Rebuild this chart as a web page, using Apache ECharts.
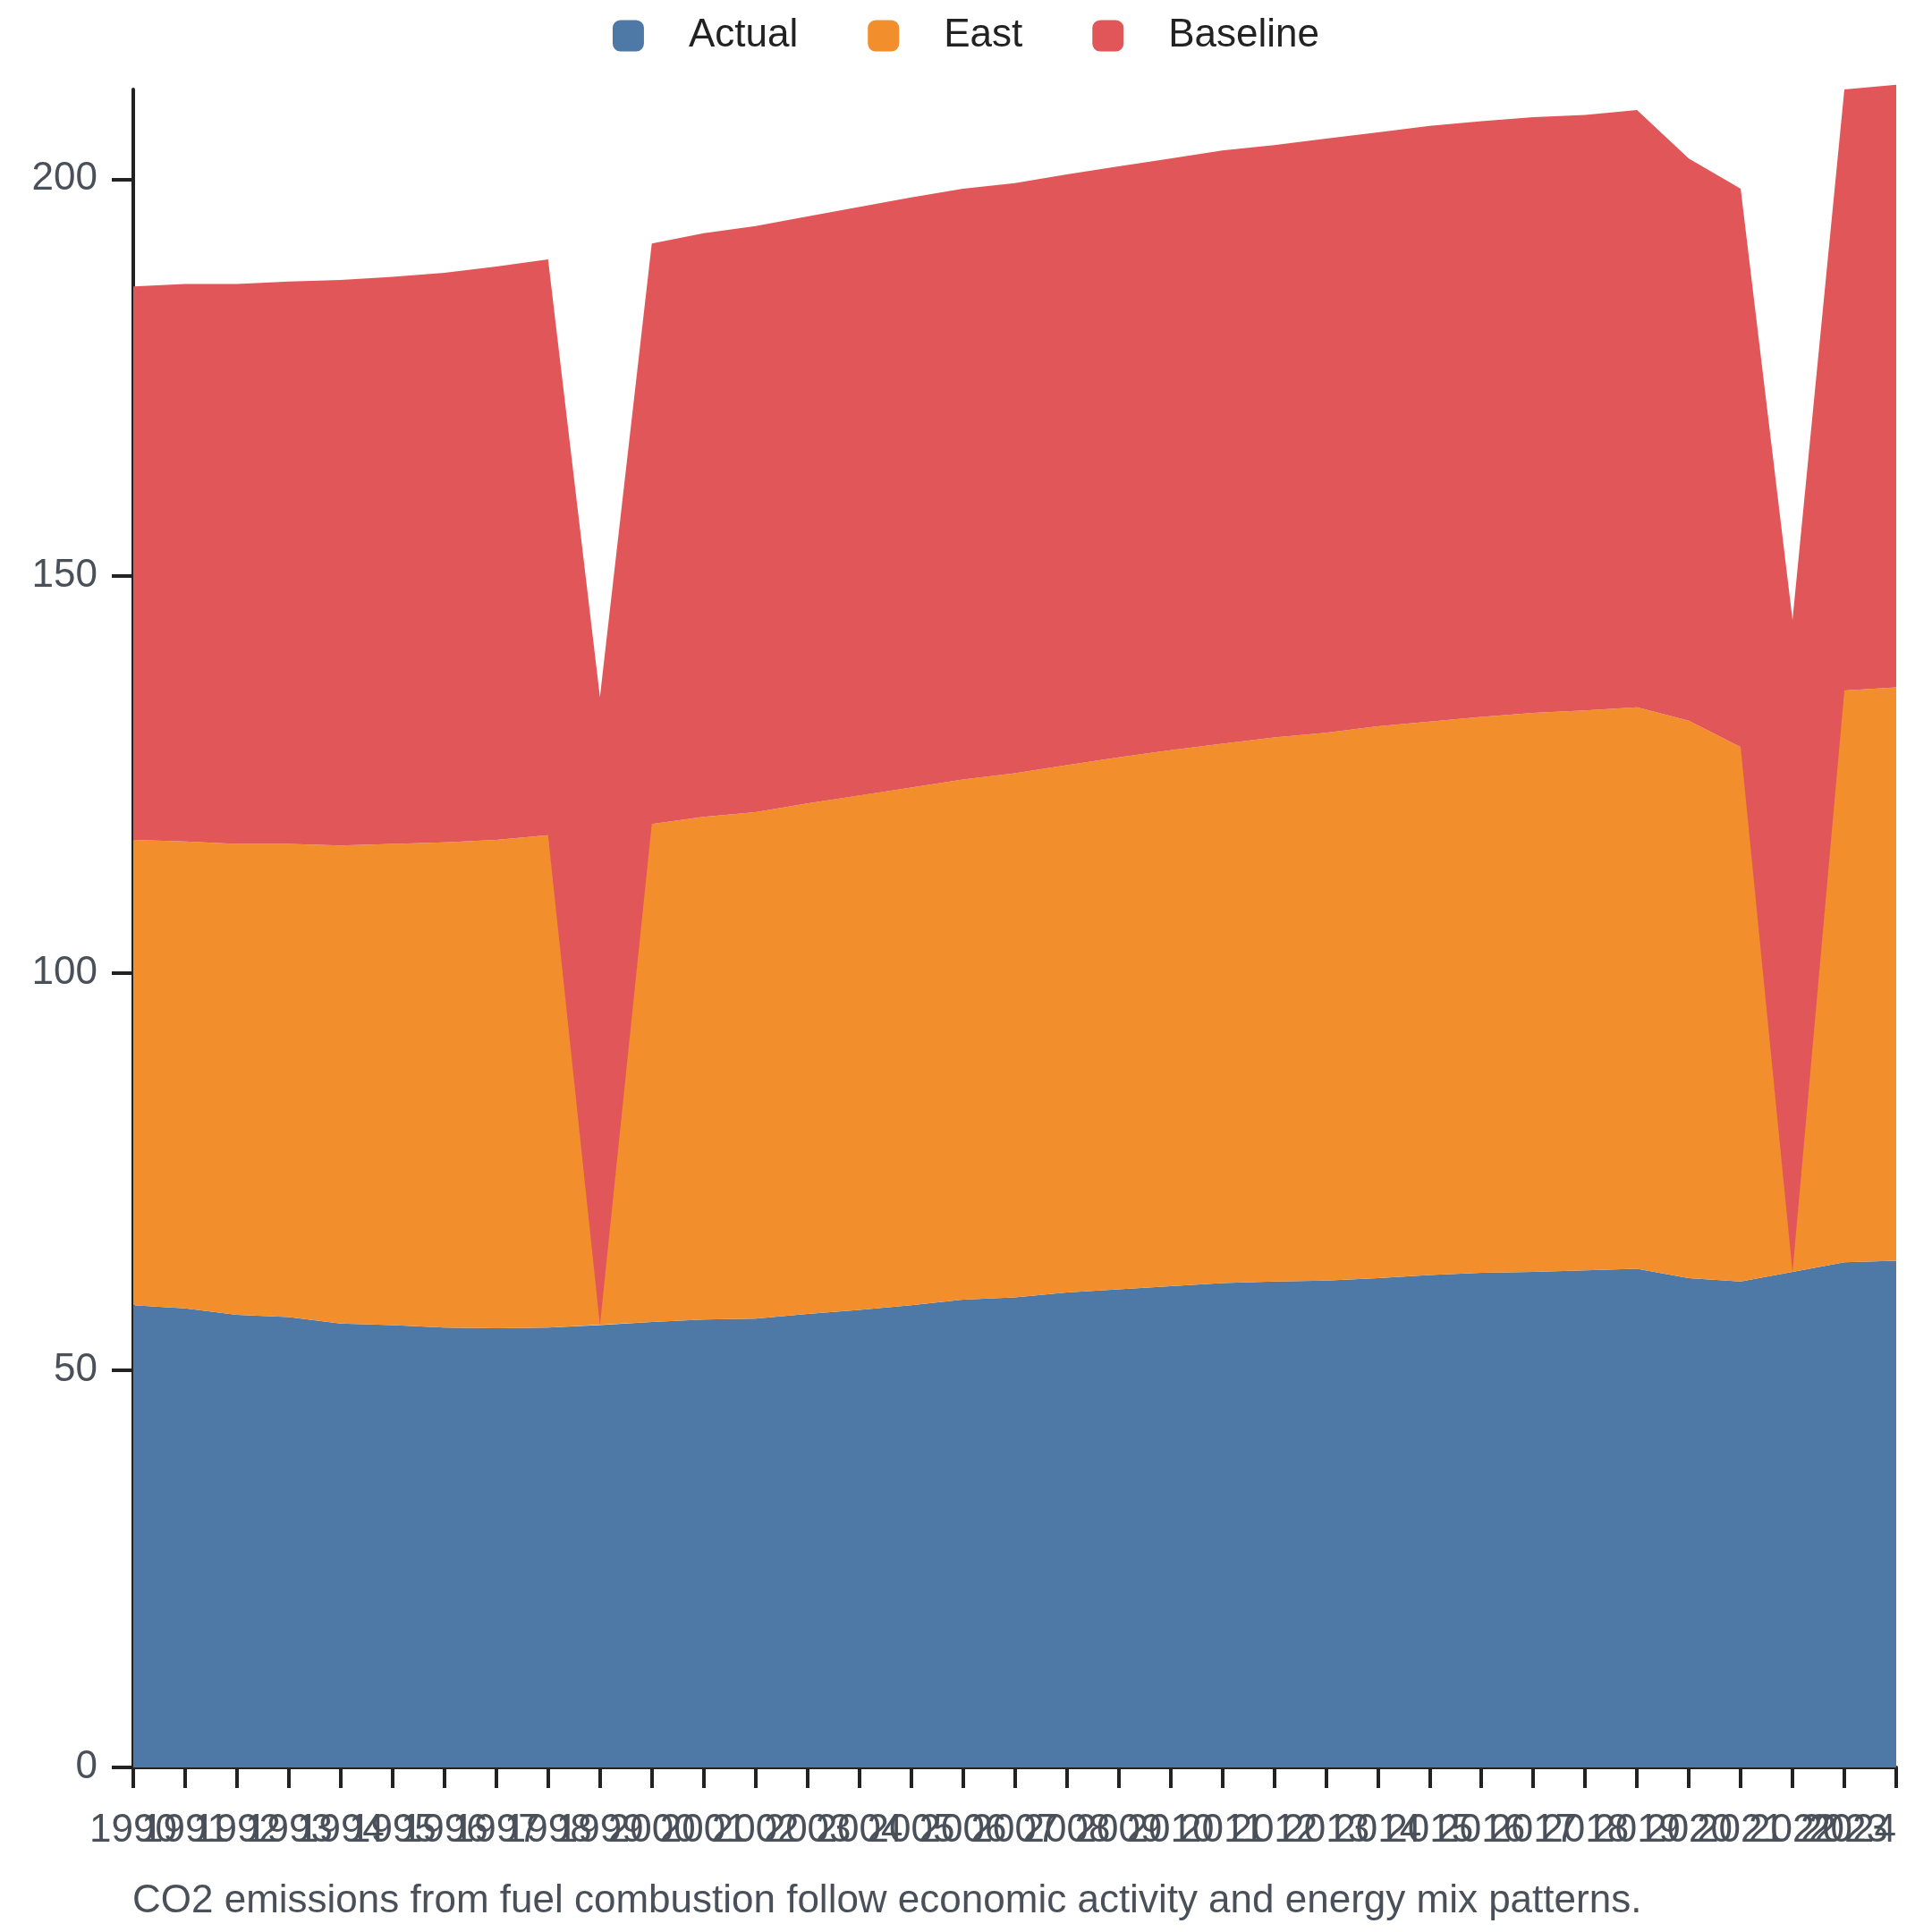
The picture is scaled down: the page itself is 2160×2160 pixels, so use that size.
<!DOCTYPE html>
<html>
<head>
<meta charset="utf-8">
<script src="https://cdn.jsdelivr.net/npm/echarts@6/dist/echarts.min.js"></script>
<style>
html,body{margin:0;padding:0;background:#fff;}
#chart{width:2160px;height:2160px;}
</style>
</head>
<body>
<div id="chart"></div>
<script>
var years = ['1990','1991','1992','1993','1994','1995','1996','1997','1998','1999','2000','2001','2002','2003','2004','2005','2006','2007','2008','2009','2010','2011','2012','2013','2014','2015','2016','2017','2018','2019','2020','2021','2022','2023','2024'];
var actual = [58.2,57.8,57.0,56.7,55.9,55.7,55.4,55.3,55.4,55.7,56.1,56.4,56.5,57.1,57.6,58.2,58.9,59.2,59.8,60.2,60.6,61.0,61.2,61.3,61.6,62.0,62.3,62.4,62.6,62.8,61.6,61.2,62.4,63.6,63.8];
var east = [58.6,58.8,59.3,59.6,60.2,60.6,61.1,61.5,62.0,null,62.7,63.3,63.8,64.3,64.8,65.2,65.5,66.0,66.4,67.0,67.5,67.9,68.5,69.0,69.5,69.7,70.0,70.4,70.5,70.7,70.2,67.3,null,72.0,72.2];
var baseline = [69.7,70.2,70.5,70.8,71.2,71.4,71.7,72.2,72.5,79.1,73.1,73.5,73.8,73.9,null,74.3,74.4,74.3,74.4,74.4,74.5,74.7,74.6,74.8,74.8,75.0,75.0,75.0,75.0,75.2,70.8,70.3,82.1,75.7,75.9];
var yTicks = [0,50,100,150,200];
var seriesNames = ['Actual','East','Baseline'];
var colors = ['#4e79a7','#f28e2b','#e15759'];
var caption = 'CO2 emissions from fuel combustion follow economic activity and energy mix patterns.';

var font = 'Liberation Sans, Arial, Helvetica, sans-serif';
var chart = echarts.init(document.getElementById('chart'), null, {renderer:'canvas'});
// missing years are left out of the series (rows absent), stacking matched by year
function pairs(arr){
  var out = [];
  for (var i = 0; i < arr.length; i++) { if (arr[i] !== null) out.push([years[i], arr[i]]); }
  return out;
}
function mk(name, data, i){
  return {
    name: name, type: 'line', stack: 'total', data: pairs(data),
    showSymbol: false, symbol: 'none', clip: false,
    lineStyle: {width: 0, color: colors[i]},
    itemStyle: {color: colors[i]},
    areaStyle: {color: colors[i], opacity: 1},
    emphasis: {disabled: true},
    animation: false
  };
}
chart.setOption({
  animation: false,
  color: colors,
  title: {
    text: caption, left: 148, top: 2104, padding: 0,
    textStyle: {fontFamily: font, fontSize: 44, fontWeight: 'normal', color: '#4a5059'}
  },
  legend: {
    top: 13, left: 'center', itemWidth: 35, itemHeight: 35, itemGap: 78,
    icon: 'roundRect',
    data: seriesNames,
    textStyle: {fontFamily: font, fontSize: 44, color: '#222', padding: [0,0,0,45]}
  },
  grid: {left: 149, right: 40, top: 100, bottom: 184, containLabel: false, outerBoundsMode: 'none'},
  xAxis: {
    type: 'category', data: years, boundaryGap: false,
    axisLine: {lineStyle: {color: '#222', width: 4}},
    axisTick: {show: true, interval: 0, length: 23, lineStyle: {color: '#222', width: 4}},
    axisLabel: {interval: 0, hideOverlap: false, margin: 49, alignMaxLabel: 'right', fontFamily: font, fontSize: 44, color: '#4a5059'},
    splitLine: {show: false}
  },
  yAxis: {
    type: 'value', min: 0, max: 211.3, interval: 50,
    axisLine: {show: true, lineStyle: {color: '#222', width: 4}},
    axisTick: {show: true, length: 24, customValues: yTicks, lineStyle: {color: '#222', width: 4}},
    axisLabel: {margin: 40, customValues: yTicks, fontFamily: font, fontSize: 44, color: '#4a5059'},
    splitLine: {show: false}
  },
  series: [mk(seriesNames[0], actual, 0), mk(seriesNames[1], east, 1), mk(seriesNames[2], baseline, 2)]
});
</script>
</body>
</html>
